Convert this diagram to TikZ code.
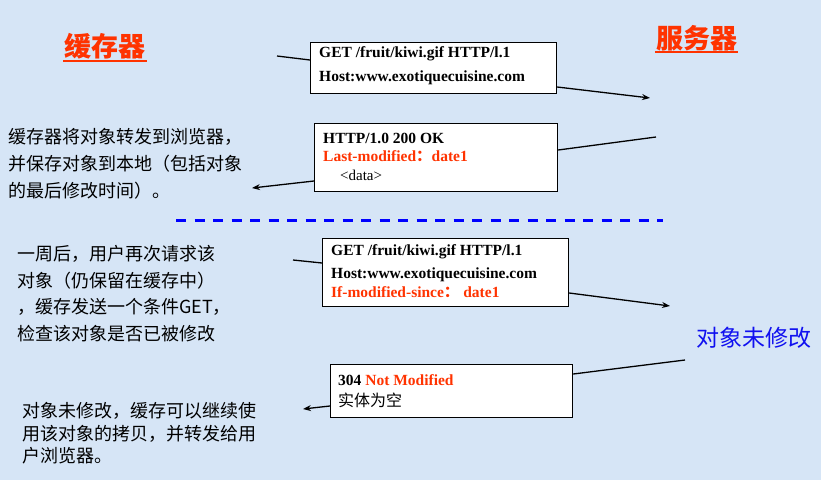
\documentclass[tikz,border=0pt]{standalone}
\usepackage{fontspec}
\setmainfont{Liberation Serif}
\newfontfamily\cjk{Noto Sans CJK SC}
\usetikzlibrary{arrows.meta,calc}
\definecolor{bgblue}{HTML}{D6E5F6}
\definecolor{redt}{HTML}{FF3300}
\definecolor{bluet}{HTML}{1010F0}
\begin{document}
\begin{tikzpicture}[x=1pt,y=-1pt,
  msgbox/.style={draw=black,line width=1.2pt,fill=white,inner sep=0pt,anchor=north west},
  boxtxt/.style={anchor=base west,inner sep=0pt,font=\fontsize{15.5}{17}\selectfont\bfseries},
  boxplain/.style={anchor=base west,inner sep=0pt,font=\fontsize{15}{17}\selectfont},
  cjktxt/.style={anchor=west,inner sep=0pt,font=\cjk\fontsize{18}{20}\selectfont},
  conn/.style={line width=1.3pt,black},
  arr/.style={conn,-{Stealth[length=8pt,width=6pt]}},
  titletxt/.style={inner sep=0pt,text=redt,font=\cjk\bfseries\fontsize{27}{30}\selectfont},
  uline/.style={redt,line width=2.5pt}]
\fill[bgblue] (0,0) rectangle (821,480);
\useasboundingbox (0,0) rectangle (821,480);

% titles
\node[titletxt] (tcache) at (105,46) {缓存器};
\coordinate (u1a) at (63,61); \coordinate (u1b) at (147,61);
\draw[uline] (u1a) -- (u1b);
\node[titletxt] (tserver) at (697,38) {服务器};
\coordinate (u2a) at (655,52); \coordinate (u2b) at (738,52);
\draw[uline] (u2a) -- (u2b);
\node[inner sep=0pt,text=bluet,font=\cjk\fontsize{23}{25}\selectfont] (tunmod) at (754,338) {对象未修改};

% box 1
\node[msgbox,minimum width=246pt,minimum height=51pt] (b1) at (310,42) {};
\node[boxtxt] (t1a) at (319,57) {GET /fruit/kiwi.gif HTTP/l.1};
\node[boxtxt] (t1b) at (319,81) {Host:www.exotiquecuisine.com};

% box 2
\node[msgbox,minimum width=243pt,minimum height=68pt] (b2) at (314,123) {};
\node[boxtxt] (t2a) at (323,143) {HTTP/1.0 200 OK};
\node[boxtxt,text=redt] (t2b) at (323,161) {Last-modified{\cjk\bfseries ：}date1};
\node[boxplain] (t2c) at (340,180) {<data>};

% dashed separator
\coordinate (d1) at (176,220); \coordinate (d2) at (663,220);
\draw[blue,line width=3pt,dash pattern=on 10pt off 8.5pt] (d1) -- (d2);

% box 3
\node[msgbox,minimum width=246pt,minimum height=68pt] (b3) at (322,238) {};
\node[boxtxt] (t3a) at (331,255) {GET /fruit/kiwi.gif HTTP/l.1};
\node[boxtxt] (t3b) at (331,278) {Host:www.exotiquecuisine.com};
\node[boxtxt,text=redt] (t3c) at (331,297) {If-modified-since{\cjk\bfseries ：} date1};

% box 4
\node[msgbox,minimum width=242pt,minimum height=53pt] (b4) at (330,364) {};
\node[boxtxt] (t4a) at (338,385) {304 \textcolor{redt}{Not Modified}};
\node[anchor=west,inner sep=0pt,font=\cjk\fontsize{16}{18}\selectfont] (t4b) at (338,400) {实体为空};

% left texts
\node[cjktxt] (l1a) at (8,137) {缓存器将对象转发到浏览器，};
\node[cjktxt] (l1b) at (8,164) {并保存对象到本地（包括对象};
\node[cjktxt] (l1c) at (8,191) {的最后修改时间）。};

\node[cjktxt] (l2a) at (17,254) {一周后，用户再次请求该};
\node[cjktxt] (l2b) at (17,281) {对象（仍保留在缓存中）};
\node[cjktxt] (l2c) at (17,307) {，缓存发送一个条件GET，};
\node[cjktxt] (l2d) at (17,334) {检查该对象是否已被修改};

\node[cjktxt] (l3a) at (22,411) {对象未修改，缓存可以继续使};
\node[cjktxt] (l3b) at (22,434) {用该对象的拷贝，并转发给用};
\node[cjktxt] (l3c) at (22,456) {户浏览器。};

% connectors
\coordinate (s1) at (277,56); \coordinate (e1) at (650,98);
\draw[conn] (s1) -- ($(b1.north west)+(0,18)$);
\draw[arr] ($(b1.north east)+(0,45)$) -- (e1);

\coordinate (s2) at (656,137); \coordinate (e2) at (252,188);
\draw[conn] (s2) -- ($(b2.north east)+(0,27)$);
\draw[arr] ($(b2.north west)+(0,58)$) -- (e2);

\coordinate (s3) at (293,260); \coordinate (e3) at (670,306);
\draw[conn] (s3) -- ($(b3.north west)+(0,25)$);
\draw[arr] ($(b3.north east)+(0,55)$) -- (e3);

\coordinate (s4) at (685,360); \coordinate (e4) at (303,409);
\draw[conn] (s4) -- ($(b4.north east)+(0,10)$);
\draw[arr] ($(b4.north west)+(0,42)$) -- (e4);
\end{tikzpicture}
\end{document}
